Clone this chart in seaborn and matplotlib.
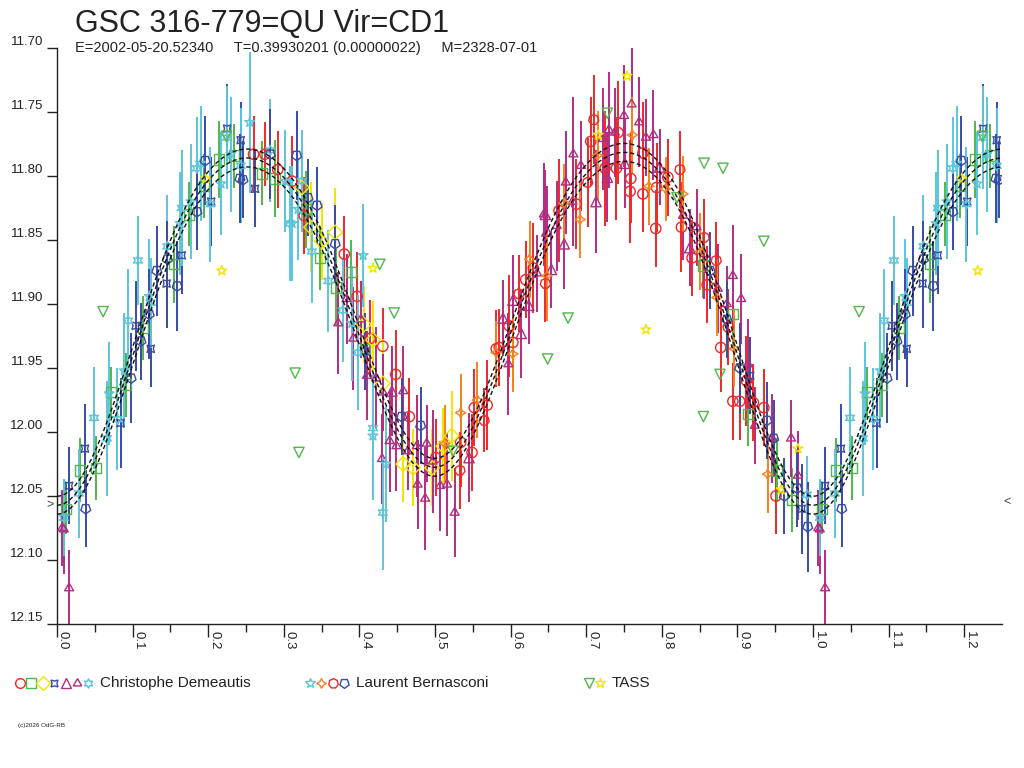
import numpy as np
import pandas as pd
import seaborn as sns
import matplotlib
matplotlib.use("Agg")
import matplotlib.pyplot as plt

sns.set_style("white")
plt.rcParams['font.family'] = ['Liberation Sans', 'DejaVu Sans']

# --- data: phase (0-1), magnitude, error ---
# points with phase < 0.25 are shown again at phase + 1

# Christophe Demeautis sessions
cd_o_ph = [0.260, 0.275, 0.292, 0.311, 0.327, 0.380, 0.397, 0.414, 0.431, 0.448,
           0.466, 0.501, 0.534, 0.549, 0.552, 0.569, 0.581, 0.585, 0.598, 0.603,
           0.620, 0.630, 0.664, 0.687, 0.706, 0.725, 0.740, 0.742, 0.758, 0.759,
           0.775, 0.775, 0.792, 0.793, 0.808, 0.826, 0.840, 0.860, 0.878, 0.888,
           0.894, 0.903, 0.912, 0.921, 0.935, 0.951]
cd_o_mag = [11.783, 11.783, 11.795, 11.804, 11.831, 11.861, 11.894, 11.927, 11.933, 11.955,
            11.988, 12.020, 12.008, 12.016, 11.981, 11.979, 11.935, 11.934, 11.917, 11.930,
            11.881, 11.872, 11.827, 11.822, 11.773, 11.794, 11.794, 11.766, 11.812, 11.802,
            11.814, 11.782, 11.841, 11.809, 11.801, 11.840, 11.864, 11.885, 11.934, 11.918,
            11.976, 11.976, 11.960, 11.977, 11.981, 12.050]
cd_o_err = [0.030, 0.025, 0.030, 0.035, 0.030, 0.030, 0.035, 0.030, 0.030, 0.035,
            0.030, 0.030, 0.035, 0.030, 0.030, 0.035, 0.030, 0.030, 0.040, 0.035,
            0.030, 0.035, 0.040, 0.035, 0.035, 0.045, 0.040, 0.040, 0.040, 0.035,
            0.030, 0.040, 0.030, 0.035, 0.030, 0.035, 0.030, 0.030, 0.035, 0.030,
            0.030, 0.030, 0.035, 0.030, 0.030, 0.030]

cd_s_ph = [0.012, 0.030, 0.052, 0.071, 0.091, 0.114, 0.155, 0.175, 0.194, 0.214,
           0.234, 0.271, 0.288, 0.329, 0.348, 0.369, 0.389, 0.407, 0.855, 0.894,
           0.914, 0.952, 0.972]
cd_s_mag = [12.060, 12.030, 12.028, 11.969, 11.963, 11.919, 11.869, 11.830, 11.808, 11.787,
            11.784, 11.798, 11.802, 11.826, 11.864, 11.887, 11.875, 11.935, 11.870, 11.908,
            11.986, 12.030, 12.053]
cd_s_err = [0.020, 0.025, 0.025, 0.020, 0.025, 0.025, 0.030, 0.025, 0.025, 0.030,
            0.025, 0.025, 0.030, 0.030, 0.025, 0.030, 0.025, 0.025, 0.025, 0.025,
            0.025, 0.025, 0.025]

cd_d_ph = [0.324, 0.336, 0.350, 0.368, 0.406, 0.418, 0.431, 0.458, 0.471, 0.496, 0.511, 0.522]
cd_d_mag = [11.809, 11.840, 11.851, 11.844, 11.916, 11.928, 11.962, 12.025, 12.028, 12.028, 12.011, 12.003]
cd_d_err = [0.035, 0.035, 0.030, 0.035, 0.030, 0.030, 0.035, 0.030, 0.030, 0.030, 0.030, 0.035]

cd_b_ph = [0.016, 0.037, 0.084, 0.104, 0.124, 0.145, 0.165, 0.204, 0.225, 0.243, 0.262, 0.407, 0.917, 0.985]
cd_b_mag = [12.042, 12.013, 11.993, 11.917, 11.935, 11.884, 11.862, 11.820, 11.763, 11.772, 11.810, 11.937, 11.956, 12.060]
cd_b_err = [0.030, 0.035, 0.035, 0.035, 0.030, 0.035, 0.030, 0.035, 0.035, 0.030, 0.030, 0.030, 0.030, 0.035]

cd_t_ph = [0.443, 0.545, 0.590, 0.603, 0.614, 0.624, 0.646, 0.648, 0.654, 0.671, 0.713, 0.728, 0.751, 0.797, 0.837]
cd_t_mag = [11.968, 12.020, 11.911, 11.897, 11.923, 11.901, 11.830, 11.843, 11.873, 11.853, 11.820, 11.801, 11.790, 11.793, 11.856]
cd_t_err = [0.035, 0.035, 0.030, 0.035, 0.035, 0.030, 0.035, 0.035, 0.030, 0.035, 0.040, 0.035, 0.035, 0.030, 0.030]

cd_p_ph = [0.007, 0.009, 0.016, 0.372, 0.383, 0.392, 0.402, 0.410, 0.422, 0.430,
           0.431, 0.440, 0.449, 0.458, 0.464, 0.476, 0.477, 0.487, 0.489, 0.497,
           0.507, 0.516, 0.526, 0.597, 0.635, 0.644, 0.661, 0.673, 0.682, 0.683,
           0.693, 0.722, 0.730, 0.738, 0.750, 0.760, 0.770, 0.779, 0.789, 0.828,
           0.846, 0.856, 0.874, 0.886, 0.894, 0.905, 0.914, 0.923, 0.946, 0.971,
           0.980]
cd_p_mag = [12.075, 12.076, 12.122, 11.915, 11.896, 11.927, 11.912, 11.956, 11.958, 12.021,
            11.969, 12.007, 12.011, 11.968, 12.015, 12.011, 12.041, 12.052, 12.009, 12.023,
            12.042, 12.041, 12.063, 11.947, 11.876, 11.830, 11.839, 11.805, 11.820, 11.783,
            11.792, 11.771, 11.764, 11.766, 11.753, 11.744, 11.758, 11.770, 11.768, 11.831,
            11.840, 11.861, 11.888, 11.900, 11.878, 11.896, 11.947, 11.995, 12.005, 12.005,
            12.034]
cd_p_err = [0.030, 0.035, 0.030, 0.040, 0.035, 0.040, 0.030, 0.035, 0.040, 0.035,
            0.030, 0.040, 0.035, 0.035, 0.030, 0.040, 0.035, 0.040, 0.030, 0.040,
            0.035, 0.040, 0.035, 0.040, 0.030, 0.040, 0.035, 0.040, 0.035, 0.045,
            0.035, 0.040, 0.045, 0.035, 0.040, 0.045, 0.035, 0.030, 0.035, 0.035,
            0.030, 0.035, 0.035, 0.030, 0.040, 0.035, 0.035, 0.030, 0.035, 0.030,
            0.035]

cd_c_ph = [0.009, 0.029, 0.049, 0.066, 0.080, 0.094, 0.107, 0.124, 0.146, 0.165,
           0.185, 0.203, 0.225, 0.243, 0.282, 0.308, 0.324, 0.337, 0.359, 0.378,
           0.398, 0.418, 0.431, 0.992]
cd_c_mag = [12.067, 12.048, 11.989, 12.005, 11.990, 11.913, 11.866, 11.899, 11.855, 11.825,
            11.794, 11.822, 11.770, 11.792, 11.780, 11.837, 11.804, 11.859, 11.882, 11.905,
            11.938, 11.997, 12.063, 12.049]
cd_c_err = [0.030, 0.035, 0.040, 0.045, 0.040, 0.040, 0.035, 0.035, 0.040, 0.045,
            0.040, 0.045, 0.040, 0.045, 0.040, 0.045, 0.040, 0.040, 0.040, 0.040,
            0.045, 0.040, 0.045, 0.030]

# Laurent Bernasconi sessions
lb_s_ph = [0.069, 0.089, 0.122, 0.163, 0.177, 0.190, 0.217, 0.230, 0.255, 0.302,
           0.311, 0.319, 0.390, 0.405, 0.418, 0.435]
lb_s_mag = [11.970, 11.952, 11.894, 11.837, 11.820, 11.790, 11.806, 11.783, 11.758, 11.804,
            11.837, 11.826, 11.915, 11.862, 12.003, 12.025]
lb_s_err = [0.040, 0.045, 0.045, 0.040, 0.045, 0.045, 0.040, 0.045, 0.055, 0.040,
            0.045, 0.040, 0.045, 0.040, 0.050, 0.045]

lb_o_ph = [0.513, 0.534, 0.556, 0.581, 0.603, 0.625, 0.648, 0.671, 0.692, 0.715,
           0.761, 0.783, 0.805, 0.828, 0.851, 0.873, 0.896, 0.940]
lb_o_mag = [12.009, 11.985, 11.975, 11.938, 11.939, 11.865, 11.878, 11.821, 11.834, 11.784,
            11.768, 11.808, 11.810, 11.814, 11.859, 11.895, 11.935, 12.033]
lb_o_err = [0.030, 0.030, 0.030, 0.025, 0.030, 0.030, 0.035, 0.030, 0.030, 0.035,
            0.030, 0.030, 0.025, 0.030, 0.030, 0.030, 0.030, 0.030]

lb_h_ph = [0.533, 0.565, 0.611, 0.646, 0.702, 0.710, 0.824, 0.856, 0.872]
lb_h_mag = [12.030, 11.991, 11.892, 11.884, 11.805, 11.756, 11.795, 11.848, 11.866]
lb_h_err = [0.030, 0.025, 0.030, 0.030, 0.035, 0.035, 0.030, 0.030, 0.030]

lb_p_ph = [0.038, 0.098, 0.111, 0.122, 0.132, 0.146, 0.159, 0.185, 0.196, 0.242,
           0.246, 0.282, 0.317, 0.332, 0.344, 0.368, 0.456, 0.481, 0.864, 0.886,
           0.903, 0.939, 0.948, 0.962, 0.979, 0.993]
lb_p_mag = [12.060, 11.958, 11.929, 11.908, 11.874, 11.865, 11.886, 11.828, 11.788, 11.802,
            11.803, 11.783, 11.784, 11.817, 11.823, 11.853, 11.988, 11.995, 11.874, 11.912,
            11.950, 11.991, 12.005, 12.050, 12.044, 12.074]
lb_p_err = [0.030, 0.035, 0.030, 0.035, 0.035, 0.030, 0.035, 0.030, 0.035, 0.035,
            0.030, 0.035, 0.035, 0.030, 0.030, 0.030, 0.030, 0.030, 0.030, 0.030,
            0.035, 0.030, 0.030, 0.030, 0.030, 0.035]

# TASS (no error bars)
ts_v_ph = [0.061, 0.224, 0.315, 0.320, 0.427, 0.446, 0.524, 0.649, 0.676, 0.728,
           0.820, 0.855, 0.856, 0.877, 0.881, 0.935]
ts_v_mag = [11.906, 11.769, 11.954, 12.016, 11.869, 11.907, 12.015, 11.943, 11.911, 11.751,
            11.817, 11.988, 11.790, 11.955, 11.794, 11.851]
ts_y_ph = [0.197, 0.218, 0.418, 0.716, 0.754, 0.779, 0.958, 0.980]
ts_y_mag = [11.802, 11.874, 11.872, 11.768, 11.722, 11.920, 12.045, 12.013]

title = "GSC 316-779=QU Vir=CD1"
subtitle = "E=2002-05-20.52340     T=0.39930201 (0.00000022)     M=2328-07-01"
observers = ["Christophe Demeautis", "Laurent Bernasconi", "TASS"]

red, green, yellow = '#f02828', '#4fb848', '#f2e400'
blue, purple, cyan, orange = '#3a4aa6', '#b32c80', '#5cc5da', '#f5821f'
bowtie = (4, 1, 45)
tristar = (3, 1, 0)
hexstar = (6, 1, 0)
fourstar = (4, 1, 0)
hepta = (7, 0, 0)
pent_down = (5, 0, 180)

series = [
    ("cd1", cd_o_ph, cd_o_mag, cd_o_err, red, 'o'),
    ("cd2", cd_s_ph, cd_s_mag, cd_s_err, green, 's'),
    ("cd3", cd_d_ph, cd_d_mag, cd_d_err, yellow, 'D'),
    ("cd4", cd_b_ph, cd_b_mag, cd_b_err, blue, bowtie),
    ("cd5", cd_t_ph, cd_t_mag, cd_t_err, purple, '^'),
    ("cd6", cd_p_ph, cd_p_mag, cd_p_err, purple, tristar),
    ("cd7", cd_c_ph, cd_c_mag, cd_c_err, cyan, hexstar),
    ("lb1", lb_s_ph, lb_s_mag, lb_s_err, cyan, '*'),
    ("lb2", lb_o_ph, lb_o_mag, lb_o_err, orange, fourstar),
    ("lb3", lb_h_ph, lb_h_mag, lb_h_err, red, hepta),
    ("lb4", lb_p_ph, lb_p_mag, lb_p_err, blue, pent_down),
    ("ts1", ts_v_ph, ts_v_mag, [0.0] * len(ts_v_ph), green, 'v'),
    ("ts2", ts_y_ph, ts_y_mag, [0.0] * len(ts_y_ph), yellow, '*'),
]

fig = plt.figure(figsize=(10.24, 7.68), dpi=100)
lax = fig.add_axes([0, 0, 1, 1])
lax.set_xlim(0, 1024)
lax.set_ylim(768, 0)
lax.axis('off')

ax = fig.add_axes([57 / 1024, 1 - 624 / 768, 945 / 1024, 576 / 768])
ax.patch.set_alpha(0)

fit_ph, fit_mag = [], []
for name, ph, mag, err, col, mk in series:
    df = pd.DataFrame({"phase": ph, "mag": mag, "err": err})
    if not name.startswith("ts"):
        fit_ph += ph
        fit_mag += mag
    rep = df[df.phase < 0.25].copy()
    rep["phase"] += 1.0
    df = pd.concat([df, rep], ignore_index=True)
    if df.err.max() > 0:
        ax.vlines(df.phase, df.mag - df.err, df.mag + df.err, colors=col, lw=1.4, zorder=2)
    sns.scatterplot(data=df, x="phase", y="mag", ax=ax, marker=mk, s=55,
                    facecolor='none', edgecolor=col, linewidth=1.0, legend=False, zorder=3)

# Fourier fit of the photometry (4 harmonics)
fp = np.array(fit_ph)
fm = np.array(fit_mag)

def design(p):
    cols = [np.ones_like(p)]
    for k in range(1, 5):
        cols += [np.cos(2 * np.pi * k * p), np.sin(2 * np.pi * k * p)]
    return np.column_stack(cols)

coef, *_ = np.linalg.lstsq(design(fp), fm, rcond=None)
grid = np.linspace(0, 1.25, 700)
curve = design(grid) @ coef
for off in (-0.007, 0.0, 0.007):
    sns.lineplot(x=grid, y=curve + off, ax=ax, color='#111111', lw=1.0,
                 linestyle=(0, (3, 2)), zorder=5)

ax.set_xlim(0, 1.25)
ax.set_ylim(12.15, 11.70)
ax.set_xlabel("")
ax.set_ylabel("")
for s in ("top", "right"):
    ax.spines[s].set_visible(False)
for s in ("left", "bottom"):
    ax.spines[s].set_color('#222222')
    ax.spines[s].set_linewidth(1.0)

xt = np.round(np.arange(0, 1.21, 0.1), 2)
ax.set_xticks(xt)
ax.set_xticklabels([f"{v:.1f}" for v in xt], rotation=-90, ha='left', va='top')
ax.set_xticks(np.round(np.arange(0.05, 1.25, 0.1), 2), minor=True)
yt = np.round(np.arange(11.70, 12.151, 0.05), 2)
ax.set_yticks(yt)
ax.set_yticklabels([f"{v:.2f}" for v in yt], va='bottom')
ax.tick_params(axis='x', which='major', direction='out', length=9, width=1,
               pad=-4, labelsize=9.5, colors='#222222', bottom=True)
ax.tick_params(axis='x', which='minor', direction='out', length=6, width=1,
               colors='#222222', bottom=True)
ax.tick_params(axis='y', direction='out', length=7, width=1, pad=3,
               labelsize=9.5, colors='#222222', left=True)

ax.text(-0.009, 12.057, ">", fontsize=9, color='#444444', ha='center', va='center', clip_on=False)
ax.text(1.257, 12.055, "<", fontsize=9, color='#444444', ha='center', va='center', clip_on=False)

# title block
lax.text(75, 32, title, fontsize=22, color='#222222', va='baseline')
lax.text(75, 52, subtitle, fontsize=10.5, color='#222222', va='baseline')

# legend row
leg_y = 683
cd_marks = [(20, red, 'o'), (31, green, 's'), (43, yellow, 'D'), (54, blue, bowtie),
            (66, purple, '^'), (77, purple, tristar), (88, cyan, hexstar)]
lb_marks = [(310, cyan, '*'), (321, orange, fourstar), (333, red, hepta), (344, blue, pent_down)]
ts_marks = [(589, green, 'v'), (600, yellow, '*')]
for group in (cd_marks, lb_marks, ts_marks):
    for x, col, mk in group:
        lax.plot([x], [leg_y], marker=mk, ms=7, mfc='none', mec=col, mew=1.0, ls='none')
lax.text(100, leg_y, observers[0], fontsize=11, color='#222222', va='center')
lax.text(356, leg_y, observers[1], fontsize=11, color='#222222', va='center')
lax.text(612, leg_y, observers[2], fontsize=11, color='#222222', va='center')

lax.text(18, 725, "(c)2026 OdG-RB", fontsize=4.5, color='#222222', va='center')

fig.savefig("out.png", dpi=100)
